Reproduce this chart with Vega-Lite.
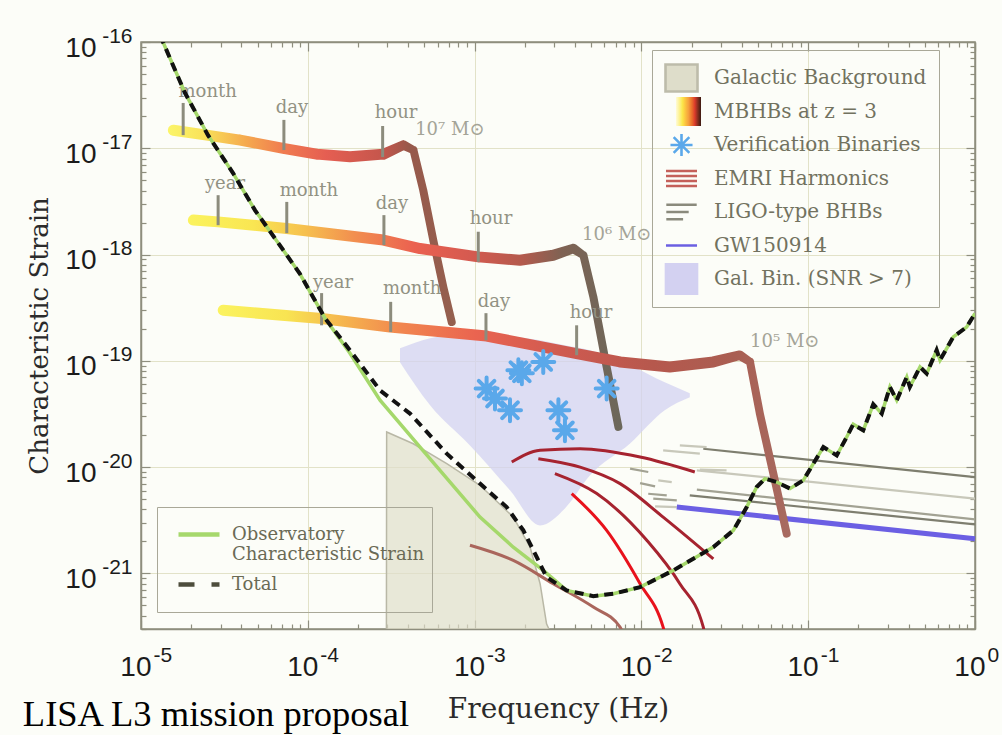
{
  "$schema": "https://vega.github.io/schema/vega-lite/v6.json",
  "width": 834,
  "height": 587,
  "autosize": {"type": "none"},
  "padding": {"left": 141, "top": 42, "right": 27, "bottom": 106},
  "background": "#fcfdf8",
  "title": {"text": "LISA L3 mission proposal", "orient": "bottom", "anchor": "start", "frame": "bounds", "font": "Liberation Serif", "fontSize": 36.5, "fontWeight": "normal", "color": "#000000", "offset": -26, "dx": -4},
  "config": {"view": {"fill": "#fbfbe5", "stroke": "#8e8e7e", "strokeWidth": 1.5}},
  "datasets": {
    "sens": [
      {"f": 1.30e-5, "h": 1.16e-16, "curve": "tot"}, {"f": 1.837e-5, "h": 3.31e-17, "curve": "tot"}, {"f": 2.52e-5, "h": 1.33e-17, "curve": "tot"}, {"f": 3.57e-5, "h": 5.81e-18, "curve": "tot"}, {"f": 4.82e-5, "h": 2.62e-18, "curve": "tot"}, {"f": 7.13e-5, "h": 1.10e-18, "curve": "tot"}, {"f": 8.97e-5, "h": 6.59e-19, "curve": "tot"}, {"f": 1.268e-4, "h": 2.52e-19, "curve": "tot"}, {"f": 1.79e-4, "h": 1.259e-19, "curve": "tot"}, {"f": 2.71e-4, "h": 5.28e-20, "curve": "tot"}, {"f": 4.10e-4, "h": 3.19e-20, "curve": "tot"}, {"f": 6.81e-4, "h": 1.34e-20, "curve": "tot"}, {"f": 1.077e-3, "h": 7.00e-21, "curve": "tot"}, {"f": 1.556e-3, "h": 4.21e-21, "curve": "tot"}, {"f": 1.96e-3, "h": 2.54e-21, "curve": "tot"}, {"f": 2.36e-3, "h": 1.42e-21, "curve": "tot"}, {"f": 2.70e-3, "h": 9.23e-22, "curve": "tot"}, {"f": 3.56e-3, "h": 6.92e-22, "curve": "tot"}, {"f": 5.15e-3, "h": 6.11e-22, "curve": "tot"}, {"f": 6.79e-3, "h": 6.44e-22, "curve": "tot"}, {"f": 9.82e-3, "h": 7.43e-22, "curve": "tot"}, {"f": 1.553e-2, "h": 1.067e-21, "curve": "tot"}, {"f": 2.70e-2, "h": 1.77e-21, "curve": "tot"}, {"f": 3.56e-2, "h": 2.54e-21, "curve": "tot"}, {"f": 4.28e-2, "h": 4.21e-21, "curve": "tot"}, {"f": 4.91e-2, "h": 6.50e-21, "curve": "tot"}, {"f": 5.51e-2, "h": 7.80e-21, "curve": "tot"}, {"f": 6.47e-2, "h": 7.24e-21, "curve": "tot"}, {"f": 7.78e-2, "h": 6.28e-21, "curve": "tot"}, {"f": 9.35e-2, "h": 7.52e-21, "curve": "tot"}, {"f": 0.1074, "h": 1.079e-20, "curve": "tot"}, {"f": 0.1233, "h": 1.545e-20, "curve": "tot"}, {"f": 0.1483, "h": 1.29e-20, "curve": "tot"}, {"f": 0.1702, "h": 1.92e-20, "curve": "tot"}, {"f": 0.1862, "h": 2.53e-20, "curve": "tot"}, {"f": 0.2138, "h": 2.22e-20, "curve": "tot"}, {"f": 0.2455, "h": 3.90e-20, "curve": "tot"}, {"f": 0.2761, "h": 3.19e-20, "curve": "tot"}, {"f": 0.309, "h": 5.68e-20, "curve": "tot"}, {"f": 0.3396, "h": 4.26e-20, "curve": "tot"}, {"f": 0.390, "h": 7.05e-20, "curve": "tot"}, {"f": 0.407, "h": 5.68e-20, "curve": "tot"}, {"f": 0.468, "h": 8.77e-20, "curve": "tot"}, {"f": 0.513, "h": 7.59e-20, "curve": "tot"}, {"f": 0.589, "h": 1.259e-19, "curve": "tot"}, {"f": 0.617, "h": 1.014e-19, "curve": "tot"}, {"f": 0.741, "h": 1.68e-19, "curve": "tot"}, {"f": 0.891, "h": 2.08e-19, "curve": "tot"}, {"f": 1.0, "h": 2.79e-19, "curve": "tot"},
      {"f": 1.30e-5, "h": 1.16e-16, "curve": "obs"}, {"f": 1.837e-5, "h": 3.31e-17, "curve": "obs"}, {"f": 2.52e-5, "h": 1.33e-17, "curve": "obs"}, {"f": 3.57e-5, "h": 5.81e-18, "curve": "obs"}, {"f": 4.82e-5, "h": 2.62e-18, "curve": "obs"}, {"f": 7.13e-5, "h": 1.10e-18, "curve": "obs"}, {"f": 8.97e-5, "h": 6.59e-19, "curve": "obs"}, {"f": 1.268e-4, "h": 2.52e-19, "curve": "obs"}, {"f": 1.79e-4, "h": 1.18e-19, "curve": "obs"}, {"f": 2.71e-4, "h": 4.26e-20, "curve": "obs"}, {"f": 4.71e-4, "h": 1.545e-20, "curve": "obs"}, {"f": 1.077e-3, "h": 3.39e-21, "curve": "obs"}, {"f": 1.706e-3, "h": 1.766e-21, "curve": "obs"}, {"f": 2.58e-3, "h": 1.067e-21, "curve": "obs"}, {"f": 3.56e-3, "h": 6.92e-22, "curve": "obs"}, {"f": 5.15e-3, "h": 6.11e-22, "curve": "obs"}, {"f": 6.79e-3, "h": 6.44e-22, "curve": "obs"}, {"f": 9.82e-3, "h": 7.43e-22, "curve": "obs"}, {"f": 1.553e-2, "h": 1.067e-21, "curve": "obs"}, {"f": 2.70e-2, "h": 1.77e-21, "curve": "obs"}, {"f": 3.56e-2, "h": 2.54e-21, "curve": "obs"}, {"f": 4.28e-2, "h": 4.21e-21, "curve": "obs"}, {"f": 4.91e-2, "h": 6.50e-21, "curve": "obs"}, {"f": 5.51e-2, "h": 7.80e-21, "curve": "obs"}, {"f": 6.47e-2, "h": 7.24e-21, "curve": "obs"}, {"f": 7.78e-2, "h": 6.28e-21, "curve": "obs"}, {"f": 9.35e-2, "h": 7.52e-21, "curve": "obs"}, {"f": 0.1074, "h": 1.079e-20, "curve": "obs"}, {"f": 0.1233, "h": 1.545e-20, "curve": "obs"}, {"f": 0.1483, "h": 1.29e-20, "curve": "obs"}, {"f": 0.1702, "h": 1.92e-20, "curve": "obs"}, {"f": 0.1862, "h": 2.53e-20, "curve": "obs"}, {"f": 0.2138, "h": 2.22e-20, "curve": "obs"}, {"f": 0.2455, "h": 3.90e-20, "curve": "obs"}, {"f": 0.2761, "h": 3.19e-20, "curve": "obs"}, {"f": 0.309, "h": 5.68e-20, "curve": "obs"}, {"f": 0.3396, "h": 4.26e-20, "curve": "obs"}, {"f": 0.390, "h": 7.05e-20, "curve": "obs"}, {"f": 0.407, "h": 5.68e-20, "curve": "obs"}, {"f": 0.468, "h": 8.77e-20, "curve": "obs"}, {"f": 0.513, "h": 7.59e-20, "curve": "obs"}, {"f": 0.589, "h": 1.259e-19, "curve": "obs"}, {"f": 0.617, "h": 1.014e-19, "curve": "obs"}, {"f": 0.741, "h": 1.68e-19, "curve": "obs"}, {"f": 0.891, "h": 2.08e-19, "curve": "obs"}, {"f": 1.0, "h": 2.79e-19, "curve": "obs"}
    ],
    "galbg": [
      {"f": 2.96e-4, "h": 3e-22}, {"f": 2.97e-4, "h": 2.14e-20}, {"f": 4.29e-4, "h": 1.66e-20}, {"f": 6.81e-4, "h": 1.079e-20}, {"f": 1.077e-3, "h": 6.75e-21}, {"f": 1.706e-3, "h": 3.39e-21}, {"f": 2.15e-3, "h": 1.77e-21}, {"f": 2.47e-3, "h": 8.0e-22}, {"f": 2.70e-3, "h": 3.36e-22}, {"f": 2.79e-3, "h": 3e-22}
    ],
    "cloud": [
      {"f": 3.57e-4, "h": 1.315e-19, "h2": 9.70e-20}, {"f": 5.41e-4, "h": 1.63e-19, "h2": 3.82e-20}, {"f": 9.38e-4, "h": 1.82e-19, "h2": 1.60e-20}, {"f": 1.63e-3, "h": 1.71e-19, "h2": 6.05e-21}, {"f": 2.47e-3, "h": 1.56e-19, "h2": 2.83e-21}, {"f": 3.48e-3, "h": 1.40e-19, "h2": 4.09e-21}, {"f": 4.92e-3, "h": 1.259e-19, "h2": 8.37e-21}, {"f": 8.55e-3, "h": 9.10e-20, "h2": 1.67e-20}, {"f": 1.38e-2, "h": 6.28e-20, "h2": 3.43e-20}, {"f": 1.95e-2, "h": 4.95e-20, "h2": 4.54e-20}
    ],
    "mbhb": [
      {"f": 1.563e-5, "h": 1.48e-17, "mass": "1e7", "stage": "inspiral"}, {"f": 2.48e-5, "h": 1.33e-17, "mass": "1e7", "stage": "inspiral"}, {"f": 3.93e-5, "h": 1.194e-17, "mass": "1e7", "stage": "inspiral"}, {"f": 7.13e-5, "h": 9.98e-18, "mass": "1e7", "stage": "inspiral"}, {"f": 1.13e-4, "h": 8.81e-18, "mass": "1e7", "stage": "inspiral"}, {"f": 1.79e-4, "h": 8.32e-18, "mass": "1e7", "stage": "inspiral"}, {"f": 2.84e-4, "h": 8.81e-18, "mass": "1e7", "stage": "inspiral"}, {"f": 3.74e-4, "h": 1.072e-17, "mass": "1e7", "stage": "merger"}, {"f": 4.30e-4, "h": 9.62e-18, "mass": "1e7", "stage": "ringdown"}, {"f": 4.92e-4, "h": 4.04e-18, "mass": "1e7", "stage": "ringdown"}, {"f": 5.65e-4, "h": 1.37e-18, "mass": "1e7", "stage": "ringdown"}, {"f": 6.49e-4, "h": 4.97e-19, "mass": "1e7", "stage": "ringdown"}, {"f": 7.29e-4, "h": 2.32e-19, "mass": "1e7", "stage": "ringdown"},
      {"f": 2.06e-5, "h": 2.11e-18, "mass": "1e6", "stage": "inspiral"}, {"f": 2.90e-5, "h": 2.03e-18, "mass": "1e6", "stage": "inspiral"}, {"f": 7.48e-5, "h": 1.76e-18, "mass": "1e6", "stage": "inspiral"}, {"f": 2.84e-4, "h": 1.37e-18, "mass": "1e6", "stage": "inspiral"}, {"f": 4.71e-4, "h": 1.14e-18, "mass": "1e6", "stage": "inspiral"}, {"f": 1.052e-3, "h": 9.51e-19, "mass": "1e6", "stage": "inspiral"}, {"f": 1.87e-3, "h": 8.85e-19, "mass": "1e6", "stage": "inspiral"}, {"f": 2.96e-3, "h": 9.86e-19, "mass": "1e6", "stage": "inspiral"}, {"f": 3.91e-3, "h": 1.14e-18, "mass": "1e6", "stage": "merger"}, {"f": 4.49e-3, "h": 9.86e-19, "mass": "1e6", "stage": "ringdown"}, {"f": 5.15e-3, "h": 4.00e-19, "mass": "1e6", "stage": "ringdown"}, {"f": 6.19e-3, "h": 8.77e-20, "mass": "1e6", "stage": "ringdown"}, {"f": 7.28e-3, "h": 2.39e-20, "mass": "1e6", "stage": "ringdown"},
      {"f": 3.11e-5, "h": 2.99e-19, "mass": "1e5", "stage": "inspiral"}, {"f": 1.21e-4, "h": 2.50e-19, "mass": "1e5", "stage": "inspiral"}, {"f": 3.11e-4, "h": 2.08e-19, "mass": "1e5", "stage": "inspiral"}, {"f": 1.18e-3, "h": 1.71e-19, "mass": "1e5", "stage": "inspiral"}, {"f": 4.09e-3, "h": 1.172e-19, "mass": "1e5", "stage": "inspiral"}, {"f": 7.45e-3, "h": 9.77e-20, "mass": "1e5", "stage": "inspiral"}, {"f": 1.48e-2, "h": 8.77e-20, "mass": "1e5", "stage": "inspiral"}, {"f": 2.70e-2, "h": 9.77e-20, "mass": "1e5", "stage": "inspiral"}, {"f": 3.89e-2, "h": 1.13e-19, "mass": "1e5", "stage": "merger"}, {"f": 4.48e-2, "h": 9.77e-20, "mass": "1e5", "stage": "ringdown"}, {"f": 5.13e-2, "h": 3.19e-20, "mass": "1e5", "stage": "ringdown"}, {"f": 6.18e-2, "h": 8.69e-21, "mass": "1e5", "stage": "ringdown"}, {"f": 7.43e-2, "h": 2.37e-21, "mass": "1e5", "stage": "ringdown"}
    ],
    "ticks": [
      {"f": 1.79e-5, "h": 2.67e-17, "h2": 1.33e-17}, {"f": 7.19e-5, "h": 1.85e-17, "h2": 9.62e-18}, {"f": 2.81e-4, "h": 1.62e-17, "h2": 8.26e-18},
      {"f": 2.90e-5, "h": 3.62e-18, "h2": 1.89e-18}, {"f": 7.48e-5, "h": 3.13e-18, "h2": 1.59e-18}, {"f": 2.86e-4, "h": 2.35e-18, "h2": 1.23e-18}, {"f": 1.052e-3, "h": 1.64e-18, "h2": 8.53e-19},
      {"f": 1.21e-4, "h": 4.34e-19, "h2": 2.16e-19}, {"f": 3.14e-4, "h": 3.59e-19, "h2": 1.87e-19}, {"f": 1.17e-3, "h": 2.81e-19, "h2": 1.56e-19}, {"f": 4.09e-3, "h": 2.16e-19, "h2": 1.13e-19}
    ],
    "tlabels": [
      {"f": 2.51e-5, "h": 3.38e-17, "label": "month"}, {"f": 8.04e-5, "h": 2.39e-17, "label": "day"}, {"f": 3.38e-4, "h": 2.14e-17, "label": "hour"},
      {"f": 3.19e-5, "h": 4.60e-18, "label": "year"}, {"f": 1.016e-4, "h": 3.95e-18, "label": "month"}, {"f": 3.20e-4, "h": 2.99e-18, "label": "day"}, {"f": 1.253e-3, "h": 2.15e-18, "label": "hour"},
      {"f": 1.416e-4, "h": 5.38e-19, "label": "year"}, {"f": 4.22e-4, "h": 4.72e-19, "label": "month"}, {"f": 1.306e-3, "h": 3.56e-19, "label": "day"}, {"f": 4.99e-3, "h": 2.81e-19, "label": "hour"}
    ],
    "mlabels": [
      {"f": 4.40e-4, "h": 1.48e-17, "label": "10⁷ M⊙"}, {"f": 4.41e-3, "h": 1.52e-18, "label": "10⁶ M⊙"}, {"f": 4.48e-2, "h": 1.50e-19, "label": "10⁵ M⊙"}
    ],
    "vb": [
      {"f": 2.58e-3, "h": 9.77e-20}, {"f": 1.83e-3, "h": 8.17e-20}, {"f": 1.92e-3, "h": 7.64e-20}, {"f": 1.18e-3, "h": 5.48e-20}, {"f": 1.325e-3, "h": 4.42e-20}, {"f": 1.63e-3, "h": 3.43e-20}, {"f": 3.18e-3, "h": 3.43e-20}, {"f": 3.48e-3, "h": 2.22e-20}, {"f": 6.19e-3, "h": 5.48e-20}
    ],
    "emri": [
      {"f": 1.67e-3, "h": 1.117e-20, "id": "e1", "kind": "dark"}, {"f": 2.47e-3, "h": 1.44e-20, "id": "e1", "kind": "dark"}, {"f": 4.29e-3, "h": 1.49e-20, "id": "e1", "kind": "dark"}, {"f": 9.82e-3, "h": 1.245e-20, "id": "e1", "kind": "dark"}, {"f": 2.09e-2, "h": 9.0e-21, "id": "e1", "kind": "dark"},
      {"f": 2.41e-3, "h": 1.20e-20, "id": "e2", "kind": "dark"}, {"f": 4.29e-3, "h": 1.0e-20, "id": "e2", "kind": "dark"}, {"f": 7.45e-3, "h": 7.00e-21, "id": "e2", "kind": "dark"}, {"f": 1.35e-2, "h": 3.39e-21, "id": "e2", "kind": "dark"}, {"f": 2.70e-2, "h": 1.37e-21, "id": "e2", "kind": "dark"},
      {"f": 3.03e-3, "h": 8.69e-21, "id": "e3", "kind": "dark"}, {"f": 5.40e-3, "h": 5.64e-21, "id": "e3", "kind": "dark"}, {"f": 1.077e-2, "h": 2.05e-21, "id": "e3", "kind": "dark"}, {"f": 1.70e-2, "h": 8.0e-22, "id": "e3", "kind": "dark"}, {"f": 2.35e-2, "h": 3.12e-22, "id": "e3", "kind": "dark"}, {"f": 2.44e-2, "h": 2.34e-22, "id": "e3", "kind": "dark"},
      {"f": 3.82e-3, "h": 5.64e-21, "id": "e4", "kind": "bright"}, {"f": 6.19e-3, "h": 2.54e-21, "id": "e4", "kind": "bright"}, {"f": 9.82e-3, "h": 8.0e-22, "id": "e4", "kind": "bright"}, {"f": 1.35e-2, "h": 3.12e-22, "id": "e4", "kind": "bright"}, {"f": 1.42e-2, "h": 2.34e-22, "id": "e4", "kind": "bright"},
      {"f": 9.38e-4, "h": 1.84e-21, "id": "e5", "kind": "rose"}, {"f": 1.706e-3, "h": 1.325e-21, "id": "e5", "kind": "rose"}, {"f": 2.96e-3, "h": 8.0e-22, "id": "e5", "kind": "rose"}, {"f": 5.15e-3, "h": 4.82e-22, "id": "e5", "kind": "rose"}, {"f": 7.45e-3, "h": 3.12e-22, "id": "e5", "kind": "rose"}, {"f": 8.09e-3, "h": 2.34e-22, "id": "e5", "kind": "rose"}
    ],
    "ligo": [
      {"f": 2.35e-2, "h": 1.49e-20, "id": "l1", "shade": "dark"}, {"f": 1.0, "h": 8.07e-21, "id": "l1", "shade": "dark"},
      {"f": 2.15e-2, "h": 9.33e-21, "id": "l2", "shade": "light"}, {"f": 1.0, "h": 5.05e-21, "id": "l2", "shade": "light"},
      {"f": 2.15e-2, "h": 6.14e-21, "id": "l3", "shade": "mid"}, {"f": 1.0, "h": 3.23e-21, "id": "l3", "shade": "mid"},
      {"f": 1.95e-2, "h": 5.42e-21, "id": "l4", "shade": "dark"}, {"f": 1.0, "h": 2.89e-21, "id": "l4", "shade": "dark"},
      {"f": 8.55e-3, "h": 9.68e-21, "id": "s1", "shade": "mid"}, {"f": 1.099e-2, "h": 9.0e-21, "id": "s1", "shade": "mid"},
      {"f": 9.82e-3, "h": 7.08e-21, "id": "s2", "shade": "mid"}, {"f": 1.208e-2, "h": 6.59e-21, "id": "s2", "shade": "mid"},
      {"f": 1.262e-2, "h": 7.52e-21, "id": "s3", "shade": "light"}, {"f": 1.52e-2, "h": 7.24e-21, "id": "s3", "shade": "light"},
      {"f": 1.099e-2, "h": 5.62e-21, "id": "s4", "shade": "mid"}, {"f": 1.419e-2, "h": 5.42e-21, "id": "s4", "shade": "mid"},
      {"f": 1.178e-2, "h": 5.05e-21, "id": "s5", "shade": "mid"}, {"f": 1.63e-2, "h": 4.86e-21, "id": "s5", "shade": "mid"},
      {"f": 1.208e-2, "h": 4.28e-21, "id": "s6", "shade": "light"}, {"f": 1.63e-2, "h": 4.21e-21, "id": "s6", "shade": "light"},
      {"f": 2.24e-2, "h": 9.46e-21, "id": "s7", "shade": "light"}, {"f": 3.24e-2, "h": 9.33e-21, "id": "s7", "shade": "light"},
      {"f": 1.35e-2, "h": 1.44e-20, "id": "s8", "shade": "light"}, {"f": 2.24e-2, "h": 1.34e-20, "id": "s8", "shade": "light"},
      {"f": 1.70e-2, "h": 1.60e-20, "id": "s9", "shade": "light"}, {"f": 2.46e-2, "h": 1.545e-20, "id": "s9", "shade": "light"}
    ],
    "gw": [{"f": 1.63e-2, "h": 4.21e-21}, {"f": 1.0, "h": 2.12e-21}],
    "legendA": [{"item": "Galactic Background"}, {"item": "MBHBs at z = 3"}, {"item": "Verification Binaries"}, {"item": "EMRI Harmonics"}, {"item": "LIGO-type BHBs"}, {"item": "GW150914"}, {"item": "Gal. Bin. (SNR > 7)"}],
    "legendB": [{"kind": "Observatory Characteristic Strain"}, {"kind": "Total"}]
  },
  "layer": [
    {
      "data": {"name": "galbg"},
      "mark": {"type": "area", "color": "#dfdecb", "line": {"color": "#b9b8a6", "strokeWidth": 1.5}, "clip": true},
      "encoding": {
        "x": {"field": "f", "type": "quantitative", "scale": {"type": "log", "domain": [1e-5, 1], "nice": false},
          "axis": {"orient": "bottom", "title": "Frequency (Hz)",
            "values": [1e-5,2e-5,3e-5,4e-5,5e-5,6e-5,7e-5,8e-5,9e-5,1e-4,2e-4,3e-4,4e-4,5e-4,6e-4,7e-4,8e-4,9e-4,0.001,0.002,0.003,0.004,0.005,0.006,0.007,0.008,0.009,0.01,0.02,0.03,0.04,0.05,0.06,0.07,0.08,0.09,0.1,0.2,0.3,0.4,0.5,0.6,0.7,0.8,0.9,1],
            "labelExpr": "abs(log(datum.value)/LN10 - round(log(datum.value)/LN10)) < 0.001 ? '10' : ''",
            "labelFont": "Liberation Sans", "labelFontSize": 28, "labelColor": "#1b1b1b", "labelAlign": "right", "labelBaseline": "alphabetic", "labelOffset": 10, "labelPadding": 55, "labelFlush": false, "labelOverlap": false, "labelBound": false,
            "tickSize": {"condition": {"test": "abs(log(datum.value)/LN10 - round(log(datum.value)/LN10)) < 0.001", "value": -9}, "value": -5},
            "tickColor": "#8e8e7e", "tickWidth": 1.2, "domainColor": "#8e8e7e", "domainWidth": 1.5,
            "grid": true, "gridColor": "#e2e2c8", "gridOpacity": {"condition": {"test": "abs(log(datum.value)/LN10 - round(log(datum.value)/LN10)) < 0.001", "value": 1}, "value": 0},
            "titleFont": "DejaVu Serif", "titleFontSize": 28, "titleFontWeight": "normal", "titleColor": "#2b2b2b", "titlePadding": 10}},
        "y": {"field": "h", "type": "quantitative", "scale": {"type": "log", "domain": [3e-22, 1e-16], "nice": false},
          "axis": {"orient": "left", "title": "Characteristic Strain",
            "values": [3e-22,4e-22,5e-22,6e-22,7e-22,8e-22,9e-22,1e-21,2e-21,3e-21,4e-21,5e-21,6e-21,7e-21,8e-21,9e-21,1e-20,2e-20,3e-20,4e-20,5e-20,6e-20,7e-20,8e-20,9e-20,1e-19,2e-19,3e-19,4e-19,5e-19,6e-19,7e-19,8e-19,9e-19,1e-18,2e-18,3e-18,4e-18,5e-18,6e-18,7e-18,8e-18,9e-18,1e-17,2e-17,3e-17,4e-17,5e-17,6e-17,7e-17,8e-17,9e-17,1e-16],
            "labelExpr": "abs(log(datum.value)/LN10 - round(log(datum.value)/LN10)) < 0.001 ? '10' : ''",
            "labelFont": "Liberation Sans", "labelFontSize": 28, "labelColor": "#1b1b1b", "labelAlign": "right", "labelBaseline": "alphabetic", "labelOffset": 14, "labelPadding": 54, "labelFlush": false, "labelOverlap": false, "labelBound": false,
            "tickSize": {"condition": {"test": "abs(log(datum.value)/LN10 - round(log(datum.value)/LN10)) < 0.001", "value": -9}, "value": -5},
            "tickColor": "#8e8e7e", "tickWidth": 1.2, "domainColor": "#8e8e7e", "domainWidth": 1.5,
            "grid": true, "gridColor": "#e2e2c8", "gridOpacity": {"condition": {"test": "abs(log(datum.value)/LN10 - round(log(datum.value)/LN10)) < 0.001", "value": 1}, "value": 0},
            "titleFont": "DejaVu Serif", "titleFontSize": 26, "titleFontWeight": "normal", "titleColor": "#2b2b2b", "titlePadding": 12}},
        "y2": {"datum": 3e-22}
      }
    },
    {
      "data": {"name": "cloud"},
      "mark": {"type": "area", "color": "#d3d1f2", "opacity": 0.75, "interpolate": "monotone"},
      "encoding": {
        "x": {"field": "f", "type": "quantitative", "scale": {"type": "log", "domain": [1e-5, 1], "nice": false},
          "axis": {"orient": "top", "title": null, "labels": false, "grid": false,
            "values": [1e-5,2e-5,3e-5,4e-5,5e-5,6e-5,7e-5,8e-5,9e-5,1e-4,2e-4,3e-4,4e-4,5e-4,6e-4,7e-4,8e-4,9e-4,0.001,0.002,0.003,0.004,0.005,0.006,0.007,0.008,0.009,0.01,0.02,0.03,0.04,0.05,0.06,0.07,0.08,0.09,0.1,0.2,0.3,0.4,0.5,0.6,0.7,0.8,0.9,1],
            "tickSize": {"condition": {"test": "abs(log(datum.value)/LN10 - round(log(datum.value)/LN10)) < 0.001", "value": -9}, "value": -5},
            "tickColor": "#8e8e7e", "tickWidth": 1.2, "domainColor": "#8e8e7e", "domainWidth": 1.5}},
        "y": {"field": "h", "type": "quantitative", "scale": {"type": "log", "domain": [3e-22, 1e-16], "nice": false},
          "axis": {"orient": "right", "title": null, "labels": false, "grid": false,
            "values": [3e-22,4e-22,5e-22,6e-22,7e-22,8e-22,9e-22,1e-21,2e-21,3e-21,4e-21,5e-21,6e-21,7e-21,8e-21,9e-21,1e-20,2e-20,3e-20,4e-20,5e-20,6e-20,7e-20,8e-20,9e-20,1e-19,2e-19,3e-19,4e-19,5e-19,6e-19,7e-19,8e-19,9e-19,1e-18,2e-18,3e-18,4e-18,5e-18,6e-18,7e-18,8e-18,9e-18,1e-17,2e-17,3e-17,4e-17,5e-17,6e-17,7e-17,8e-17,9e-17,1e-16],
            "tickSize": {"condition": {"test": "abs(log(datum.value)/LN10 - round(log(datum.value)/LN10)) < 0.001", "value": -9}, "value": -5},
            "tickColor": "#8e8e7e", "tickWidth": 1.2, "domainColor": "#8e8e7e", "domainWidth": 1.5}},
        "y2": {"field": "h2"}
      }
    },
    {
      "data": {"name": "emri"},
      "mark": {"type": "line", "strokeWidth": 3, "interpolate": "monotone", "clip": true},
      "encoding": {
        "x": {"field": "f", "type": "quantitative", "scale": {"type": "log", "domain": [1e-5, 1], "nice": false},
          "axis": {"orient": "bottom", "title": null, "domain": false, "grid": false,
            "values": [1e-5,2e-5,3e-5,4e-5,5e-5,6e-5,7e-5,8e-5,9e-5,1e-4,2e-4,3e-4,4e-4,5e-4,6e-4,7e-4,8e-4,9e-4,0.001,0.002,0.003,0.004,0.005,0.006,0.007,0.008,0.009,0.01,0.02,0.03,0.04,0.05,0.06,0.07,0.08,0.09,0.1,0.2,0.3,0.4,0.5,0.6,0.7,0.8,0.9,1],
            "labelExpr": "abs(log(datum.value)/LN10 - round(log(datum.value)/LN10)) < 0.001 ? toString(round(log(datum.value)/LN10)) : ''",
            "labelFont": "Liberation Sans", "labelFontSize": 21, "labelColor": "#1b1b1b", "labelAlign": "left", "labelBaseline": "alphabetic", "labelOffset": 12, "labelPadding": 41, "labelFlush": false, "labelOverlap": false, "labelBound": false,
            "tickSize": {"condition": {"test": "abs(log(datum.value)/LN10 - round(log(datum.value)/LN10)) < 0.001", "value": -9}, "value": -5},
            "tickOpacity": 0}},
        "y": {"field": "h", "type": "quantitative", "scale": {"type": "log", "domain": [3e-22, 1e-16], "nice": false},
          "axis": {"orient": "left", "title": null, "domain": false, "grid": false,
            "values": [3e-22,4e-22,5e-22,6e-22,7e-22,8e-22,9e-22,1e-21,2e-21,3e-21,4e-21,5e-21,6e-21,7e-21,8e-21,9e-21,1e-20,2e-20,3e-20,4e-20,5e-20,6e-20,7e-20,8e-20,9e-20,1e-19,2e-19,3e-19,4e-19,5e-19,6e-19,7e-19,8e-19,9e-19,1e-18,2e-18,3e-18,4e-18,5e-18,6e-18,7e-18,8e-18,9e-18,1e-17,2e-17,3e-17,4e-17,5e-17,6e-17,7e-17,8e-17,9e-17,1e-16],
            "labelExpr": "abs(log(datum.value)/LN10 - round(log(datum.value)/LN10)) < 0.001 ? toString(round(log(datum.value)/LN10)) : ''",
            "labelFont": "Liberation Sans", "labelFontSize": 21, "labelColor": "#1b1b1b", "labelAlign": "right", "labelBaseline": "alphabetic", "labelOffset": 0, "labelPadding": 18, "labelFlush": false, "labelOverlap": false, "labelBound": false,
            "tickSize": {"condition": {"test": "abs(log(datum.value)/LN10 - round(log(datum.value)/LN10)) < 0.001", "value": -9}, "value": -5},
            "tickOpacity": 0}},
        "detail": {"field": "id"},
        "color": {"field": "kind", "type": "nominal", "scale": {"domain": ["dark", "bright", "rose"], "range": ["#a6232f", "#e8121c", "#aa665c"]}, "legend": null}
      }
    },
    {
      "data": {"name": "ligo"},
      "mark": {"type": "line", "strokeWidth": 2.2, "clip": true},
      "encoding": {
        "x": {"field": "f", "type": "quantitative", "scale": {"type": "log", "domain": [1e-5, 1], "nice": false}, "axis": null},
        "y": {"field": "h", "type": "quantitative", "scale": {"type": "log", "domain": [3e-22, 1e-16], "nice": false}, "axis": null},
        "detail": {"field": "id"},
        "color": {"field": "shade", "type": "nominal", "scale": {"domain": ["dark", "mid", "light"], "range": ["#7e7e6f", "#a2a293", "#c8c8ba"]}, "legend": null}
      }
    },
    {
      "data": {"name": "gw"},
      "mark": {"type": "line", "color": "#6b5fe3", "strokeWidth": 5},
      "encoding": {
        "x": {"field": "f", "type": "quantitative", "scale": {"type": "log", "domain": [1e-5, 1], "nice": false}, "axis": null},
        "y": {"field": "h", "type": "quantitative", "scale": {"type": "log", "domain": [3e-22, 1e-16], "nice": false}, "axis": null}
      }
    },
    {
      "data": {"name": "mbhb"},
      "transform": [{"filter": "datum.mass == '1e7'"}],
      "mark": {"type": "trail", "color": {"gradient": "linear", "x1": 0, "y1": 0, "x2": 1, "y2": 0, "stops": [{"offset": 0, "color": "#fbf56a"}, {"offset": 0.12, "color": "#f9e35a"}, {"offset": 0.27, "color": "#f5aa4e"}, {"offset": 0.4, "color": "#f07c50"}, {"offset": 0.55, "color": "#e55e52"}, {"offset": 0.75, "color": "#c4564c"}, {"offset": 0.84, "color": "#97594b"}, {"offset": 1, "color": "#94604f"}]}},
      "encoding": {
        "x": {"field": "f", "type": "quantitative", "scale": {"type": "log", "domain": [1e-5, 1], "nice": false}, "axis": null},
        "y": {"field": "h", "type": "quantitative", "scale": {"type": "log", "domain": [3e-22, 1e-16], "nice": false}, "axis": null},
        "size": {"field": "stage", "type": "ordinal", "scale": {"domain": ["inspiral", "merger", "ringdown"], "range": [11, 8, 3]}, "legend": null}
      }
    },
    {
      "data": {"name": "mbhb"},
      "transform": [{"filter": "datum.mass == '1e6'"}],
      "mark": {"type": "trail", "color": {"gradient": "linear", "x1": 0, "y1": 0, "x2": 1, "y2": 0, "stops": [{"offset": 0, "color": "#fbf35e"}, {"offset": 0.15, "color": "#f9e652"}, {"offset": 0.27, "color": "#f6c04e"}, {"offset": 0.38, "color": "#f2904f"}, {"offset": 0.52, "color": "#eb6150"}, {"offset": 0.65, "color": "#d55a50"}, {"offset": 0.77, "color": "#b35a4d"}, {"offset": 0.86, "color": "#7f6253"}, {"offset": 1, "color": "#6b685b"}]}},
      "encoding": {
        "x": {"field": "f", "type": "quantitative", "scale": {"type": "log", "domain": [1e-5, 1], "nice": false}, "axis": null},
        "y": {"field": "h", "type": "quantitative", "scale": {"type": "log", "domain": [3e-22, 1e-16], "nice": false}, "axis": null},
        "size": {"field": "stage", "type": "ordinal", "scale": {"domain": ["inspiral", "merger", "ringdown"], "range": [11, 8, 3]}, "legend": null}
      }
    },
    {
      "data": {"name": "mbhb"},
      "transform": [{"filter": "datum.mass == '1e5'"}],
      "mark": {"type": "trail", "color": {"gradient": "linear", "x1": 0, "y1": 0, "x2": 1, "y2": 0, "stops": [{"offset": 0, "color": "#fbf360"}, {"offset": 0.12, "color": "#f8e452"}, {"offset": 0.23, "color": "#f5b04e"}, {"offset": 0.32, "color": "#f1864f"}, {"offset": 0.45, "color": "#ea6450"}, {"offset": 0.6, "color": "#cf5a50"}, {"offset": 0.76, "color": "#b6584d"}, {"offset": 0.9, "color": "#a95e52"}, {"offset": 1, "color": "#a76b61"}]}},
      "encoding": {
        "x": {"field": "f", "type": "quantitative", "scale": {"type": "log", "domain": [1e-5, 1], "nice": false}, "axis": null},
        "y": {"field": "h", "type": "quantitative", "scale": {"type": "log", "domain": [3e-22, 1e-16], "nice": false}, "axis": null},
        "size": {"field": "stage", "type": "ordinal", "scale": {"domain": ["inspiral", "merger", "ringdown"], "range": [11, 8, 3]}, "legend": null}
      }
    },
    {
      "data": {"name": "ticks"},
      "mark": {"type": "rule", "color": "#8c8c7d", "strokeWidth": 3},
      "encoding": {
        "x": {"field": "f", "type": "quantitative", "scale": {"type": "log", "domain": [1e-5, 1], "nice": false}, "axis": null},
        "y": {"field": "h", "type": "quantitative", "scale": {"type": "log", "domain": [3e-22, 1e-16], "nice": false}, "axis": null},
        "y2": {"field": "h2"}
      }
    },
    {
      "data": {"name": "tlabels"},
      "mark": {"type": "text", "font": "DejaVu Serif", "fontSize": 18, "color": "#929283", "align": "center", "baseline": "middle"},
      "encoding": {
        "x": {"field": "f", "type": "quantitative", "scale": {"type": "log", "domain": [1e-5, 1], "nice": false}, "axis": null},
        "y": {"field": "h", "type": "quantitative", "scale": {"type": "log", "domain": [3e-22, 1e-16], "nice": false}, "axis": null},
        "text": {"field": "label"}
      }
    },
    {
      "data": {"name": "mlabels"},
      "mark": {"type": "text", "font": "DejaVu Serif", "fontSize": 18, "color": "#a4a497", "align": "left", "baseline": "middle"},
      "encoding": {
        "x": {"field": "f", "type": "quantitative", "scale": {"type": "log", "domain": [1e-5, 1], "nice": false}, "axis": null},
        "y": {"field": "h", "type": "quantitative", "scale": {"type": "log", "domain": [3e-22, 1e-16], "nice": false}, "axis": null},
        "text": {"field": "label"}
      }
    },
    {
      "data": {"name": "vb"},
      "mark": {"type": "point", "shape": "M-1,0H1M0,-1V1M-0.71,-0.71L0.71,0.71M-0.71,0.71L0.71,-0.71", "size": 484, "filled": false, "stroke": "#5aa8ea", "strokeWidth": 4, "strokeCap": "round", "opacity": 1},
      "encoding": {
        "x": {"field": "f", "type": "quantitative", "scale": {"type": "log", "domain": [1e-5, 1], "nice": false}, "axis": null},
        "y": {"field": "h", "type": "quantitative", "scale": {"type": "log", "domain": [3e-22, 1e-16], "nice": false}, "axis": null}
      }
    },
    {
      "data": {"name": "sens"},
      "transform": [{"filter": "datum.curve == 'obs'"}],
      "mark": {"type": "line", "color": "#a5d86b", "strokeWidth": 3.5, "clip": true},
      "encoding": {
        "x": {"field": "f", "type": "quantitative", "scale": {"type": "log", "domain": [1e-5, 1], "nice": false}, "axis": null},
        "y": {"field": "h", "type": "quantitative", "scale": {"type": "log", "domain": [3e-22, 1e-16], "nice": false}, "axis": null}
      }
    },
    {
      "data": {"name": "sens"},
      "transform": [{"filter": "datum.curve == 'tot'"}],
      "mark": {"type": "line", "color": "#111111", "strokeWidth": 4, "strokeDash": [9, 6], "clip": true},
      "encoding": {
        "x": {"field": "f", "type": "quantitative", "scale": {"type": "log", "domain": [1e-5, 1], "nice": false}, "axis": null},
        "y": {"field": "h", "type": "quantitative", "scale": {"type": "log", "domain": [3e-22, 1e-16], "nice": false}, "axis": null}
      }
    },
    {
      "data": {"name": "legendA"},
      "mark": {"type": "point", "opacity": 0, "filled": true},
      "encoding": {
        "fill": {"field": "item", "type": "nominal",
          "scale": {"domain": ["Galactic Background", "MBHBs at z = 3", "Verification Binaries", "EMRI Harmonics", "LIGO-type BHBs", "GW150914", "Gal. Bin. (SNR > 7)"], "range": ["#deddca", "transparent", "transparent", "transparent", "transparent", "transparent", "#d3d1f1"]},
          "legend": {"orient": "none", "legendX": 511, "legendY": 8, "title": null, "strokeColor": "#a9a898", "padding": 12, "labelFont": "DejaVu Serif", "labelFontSize": 20, "labelColor": "#72725f", "labelLimit": 500, "symbolSize": 1024, "symbolStrokeWidth": 2.6, "rowPadding": 1.5, "clipHeight": 32, "labelOffset": 15, "symbolOpacity": 1}},
        "stroke": {"field": "item", "type": "nominal",
          "scale": {"domain": ["Galactic Background", "MBHBs at z = 3", "Verification Binaries", "EMRI Harmonics", "LIGO-type BHBs", "GW150914", "Gal. Bin. (SNR > 7)"], "range": ["#bdbcaa", "transparent", "#5aa8ea", "#c4605a", "#8a8a7c", "#6b5fe2", "#d3d1f1"]},
          "legend": {"orient": "none", "legendX": 511, "legendY": 8, "title": null, "strokeColor": "#a9a898", "padding": 12, "labelFont": "DejaVu Serif", "labelFontSize": 20, "labelColor": "#72725f", "labelLimit": 500, "symbolSize": 1024, "symbolStrokeWidth": 2.6, "rowPadding": 1.5, "clipHeight": 32, "labelOffset": 15, "symbolOpacity": 1}},
        "shape": {"field": "item", "type": "nominal",
          "scale": {"domain": ["Galactic Background", "MBHBs at z = 3", "Verification Binaries", "EMRI Harmonics", "LIGO-type BHBs", "GW150914", "Gal. Bin. (SNR > 7)"], "range": ["M-1,-0.84H1V0.84H-1Z", "M-0.78,-0.88H0.78V0.88H-0.78Z", "M-0.69,0H0.69M0,-0.69V0.69M-0.49,-0.49L0.49,0.49M-0.49,0.49L0.49,-0.49", "M-0.97,-0.47H0.97M-0.97,-0.16H0.97M-0.97,0.16H0.97M-0.97,0.47H0.97", "M-0.95,-0.45H0.95M-0.95,0H0.45M-0.95,0.45H0.1", "M-0.97,0H0.97", "M-0.97,-0.92H0.97V0.92H-0.97Z"]},
          "legend": {"orient": "none", "legendX": 511, "legendY": 8, "title": null, "strokeColor": "#a9a898", "padding": 12, "labelFont": "DejaVu Serif", "labelFontSize": 20, "labelColor": "#72725f", "labelLimit": 500, "symbolSize": 1024, "symbolStrokeWidth": 2.6, "rowPadding": 1.5, "clipHeight": 32, "labelOffset": 15, "symbolOpacity": 1}}
      }
    },
    {
      "data": {"name": "legendB"},
      "mark": {"type": "point", "opacity": 0, "filled": false},
      "encoding": {
        "color": {"field": "kind", "type": "nominal",
          "scale": {"domain": ["Observatory Characteristic Strain", "Total"], "range": ["#a6d86c", "#4d4d3c"]},
          "legend": {"orient": "none", "legendX": 16, "legendY": 465, "title": null, "strokeColor": "#a9a898", "padding": 7, "labelFont": "DejaVu Serif", "labelFontSize": 18, "labelColor": "#6a6a55", "labelLimit": 500, "symbolType": "stroke", "symbolSize": 1681, "symbolStrokeWidth": 4.5, "symbolOffset": 12, "labelOffset": 10, "rowPadding": 0, "clipHeight": 41, "symbolOpacity": 1,
            "labelExpr": "datum.label == 'Observatory Characteristic Strain' ? ['Observatory', 'Characteristic Strain'] : datum.label"}},
        "strokeDash": {"field": "kind", "type": "nominal",
          "scale": {"domain": ["Observatory Characteristic Strain", "Total"], "range": [[1, 0], [16, 17, 8, 100]]},
          "legend": {"orient": "none", "legendX": 16, "legendY": 465, "title": null, "strokeColor": "#a9a898", "padding": 7, "labelFont": "DejaVu Serif", "labelFontSize": 18, "labelColor": "#6a6a55", "labelLimit": 500, "symbolType": "stroke", "symbolSize": 1681, "symbolStrokeWidth": 4.5, "symbolOffset": 12, "labelOffset": 10, "rowPadding": 0, "clipHeight": 41, "symbolOpacity": 1,
            "labelExpr": "datum.label == 'Observatory Characteristic Strain' ? ['Observatory', 'Characteristic Strain'] : datum.label"}}
      }
    },
    {
      "data": {"name": "mbhb"},
      "mark": {"type": "point", "opacity": 0, "filled": true},
      "encoding": {
        "x": {"field": "f", "type": "quantitative", "scale": {"type": "log", "domain": [1e-5, 1], "nice": false}, "axis": null},
        "y": {"field": "h", "type": "quantitative", "scale": {"type": "log", "domain": [3e-22, 1e-16], "nice": false}, "axis": null},
        "color": {"field": "f", "type": "quantitative", "scale": {"type": "log", "domain": [1e-5, 1e-1], "range": ["#fffbd6", "#fbe84c", "#f4a03e", "#dc3a2b", "#3c1a12"]},
          "legend": {"orient": "none", "legendX": 535, "legendY": 55, "direction": "horizontal", "gradientLength": 25, "gradientThickness": 29, "title": null, "labelOpacity": 0, "labelFontSize": 1, "padding": 0, "gradientStrokeWidth": 0}}
      }
    }
  ],
  "resolve": {
    "scale": {"color": "independent", "fill": "independent", "stroke": "independent", "shape": "independent", "strokeDash": "independent", "size": "independent"},
    "axis": {"x": "independent", "y": "independent"},
    "legend": {"color": "independent", "fill": "independent", "stroke": "independent", "shape": "independent", "strokeDash": "independent", "size": "independent"}
  }
}
